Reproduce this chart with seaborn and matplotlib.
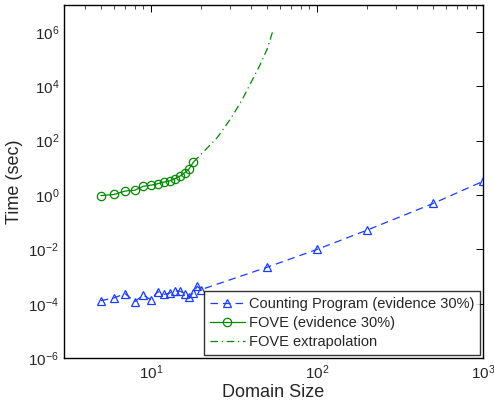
import numpy as np
import pandas as pd
import matplotlib
matplotlib.use("Agg")
import matplotlib.pyplot as plt
from matplotlib.ticker import LogLocator, NullFormatter, NullLocator
import seaborn as sns

# Counting Program (evidence 30%)
cp_size = [5, 6, 7, 8, 9, 10, 11, 12, 13, 14, 15, 16, 17, 18, 19, 20,
           50, 100, 200, 500, 1000]
cp_time = [1.3e-4, 1.65e-4, 2.35e-4, 1.2e-4, 2.1e-4, 1.4e-4, 2.8e-4, 2.2e-4,
           2.5e-4, 2.95e-4, 2.9e-4, 2.3e-4, 1.8e-4, 2.5e-4, 4.4e-4, 3.3e-4,
           2.2e-3, 1.0e-2, 5.1e-2, 0.49, 3.2]

# FOVE (evidence 30%)
fove_size = [5, 6, 7, 8, 9, 10, 11, 12, 13, 14, 15, 16, 17, 18]
fove_time = [0.95, 1.05, 1.4, 1.5, 2.1, 2.3, 2.6, 3.0, 3.3, 4.0, 5.0, 6.6, 9.3, 16]

# FOVE extrapolation
ext_size = [18, 20, 25, 30, 35, 40, 45, 50, 54]
ext_time = [16, 31, 126, 600, 2800, 13500, 55000, 224000, 1.0e6]

blue = "#1a3cff"
green = "#008a00"

sns.set_style("white")
plt.rcParams["font.family"] = ["Liberation Sans", "DejaVu Sans"]
plt.rcParams["mathtext.fontset"] = "custom"
plt.rcParams["mathtext.rm"] = "Liberation Sans"
plt.rcParams["mathtext.it"] = "Liberation Sans"

fig = plt.figure(figsize=(4.94, 4.07), dpi=100)
ax = fig.add_axes([0.1296, 0.120, 0.8484, 0.8685])

cp = pd.DataFrame({"size": cp_size, "time": cp_time})
fove = pd.DataFrame({"size": fove_size, "time": fove_time})
ext = pd.DataFrame({"size": ext_size, "time": ext_time})

sns.lineplot(data=cp, x="size", y="time", ax=ax, estimator=None, sort=False,
             color=blue, linestyle=(0, (6, 4)), linewidth=0.9, marker="^",
             markersize=6, markerfacecolor="none", markeredgecolor=blue,
             markeredgewidth=0.9, label="Counting Program (evidence 30%)")
sns.lineplot(data=fove, x="size", y="time", ax=ax, estimator=None, sort=False,
             color=green, linewidth=0.9, marker="o", markersize=6,
             markerfacecolor="none", markeredgecolor=green, markeredgewidth=0.9,
             label="FOVE (evidence 30%)")
sns.lineplot(data=ext, x="size", y="time", ax=ax, estimator=None, sort=False,
             color=green, linewidth=0.9, linestyle=(0, (6, 3, 1, 3)),
             label="FOVE extrapolation")

ax.set_xscale("log")
ax.set_yscale("log")
ax.set_xlim(3, 1000)
ax.set_ylim(1e-6, 1e7)

ax.xaxis.set_major_locator(LogLocator(base=10, numticks=10))
ax.xaxis.set_minor_locator(LogLocator(base=10, subs=np.arange(2, 10), numticks=20))
ax.xaxis.set_minor_formatter(NullFormatter())
ax.set_yticks([1e-6, 1e-4, 1e-2, 1e0, 1e2, 1e4, 1e6])
ax.yaxis.set_minor_locator(NullLocator())

ax.tick_params(which="both", direction="in", top=True, right=True,
               labelsize=11, color="black")
ax.tick_params(which="major", length=5, width=0.7)
ax.tick_params(which="minor", length=3, width=0.5)
for s in ax.spines.values():
    s.set_color("black")
    s.set_linewidth(1.0)

ax.set_xlabel("Domain Size", fontsize=13, labelpad=2)
ax.set_ylabel("Time (sec)", fontsize=13, labelpad=4)

leg = ax.legend(loc="lower right", fontsize=10.5, frameon=True, fancybox=False,
                edgecolor="black", handlelength=2.4, handletextpad=0.3,
                borderpad=0.4, labelspacing=0.35, borderaxespad=0.2)
leg.get_frame().set_linewidth(1.0)

fig.savefig("out.png", dpi=100)
